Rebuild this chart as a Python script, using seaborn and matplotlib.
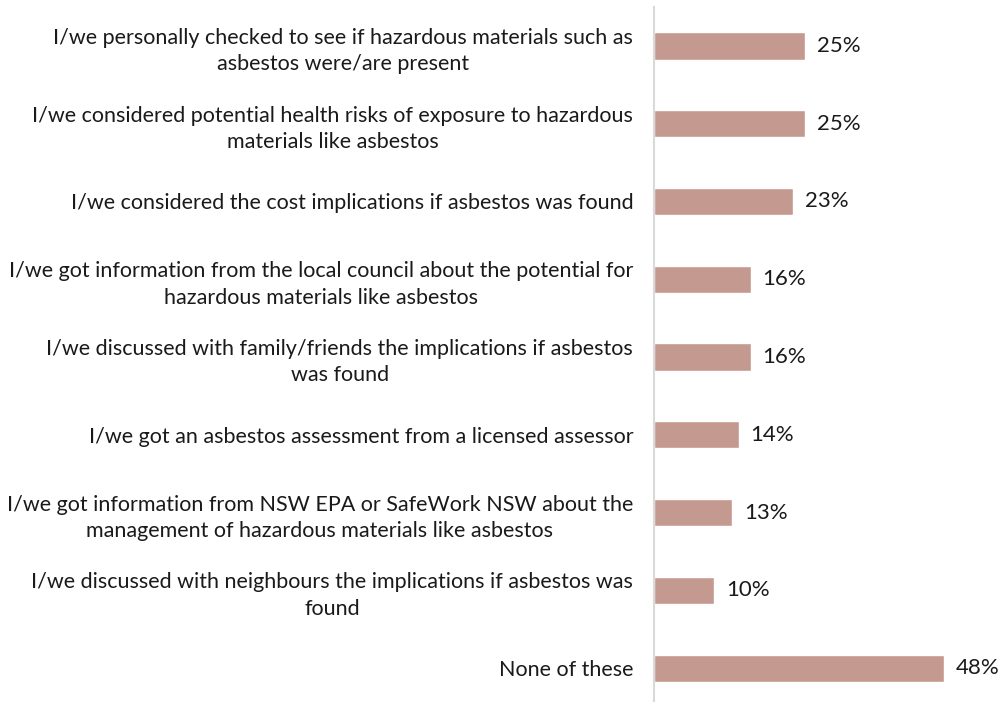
import matplotlib
matplotlib.use("Agg")
import matplotlib.pyplot as plt
import seaborn as sns
import pandas as pd

categories = [
    "I/we personally checked to see if hazardous materials such as\nasbestos were/are present",
    "I/we considered potential health risks of exposure to hazardous\nmaterials like asbestos",
    "I/we considered the cost implications if asbestos was found",
    "I/we got information from the local council about the potential for\nhazardous materials like asbestos",
    "I/we discussed with family/friends the implications if asbestos\nwas found",
    "I/we got an asbestos assessment from a licensed assessor",
    "I/we got information from NSW EPA or SafeWork NSW about the\nmanagement of hazardous materials like asbestos",
    "I/we discussed with neighbours the implications if asbestos was\nfound",
    "None of these",
]
values = [25, 25, 23, 16, 16, 14, 13, 10, 48]
value_labels = ["25%", "25%", "23%", "16%", "16%", "14%", "13%", "10%", "48%"]

df = pd.DataFrame({"category": categories, "value": values})

sns.set_theme(style="white")
plt.rcParams["font.family"] = ["Lato", "DejaVu Sans"]

fig = plt.figure(figsize=(10.03, 7.02), dpi=100)
ax = fig.add_axes([654 / 1003, -5 / 702, 332 / 1003, 700 / 702])

sns.barplot(data=df, x="value", y="category", orient="h", color="#C4998F",
            saturation=1, width=0.35, ax=ax)

ax.set_xlim(0, 55)
ax.set_ylim(8.5, -0.5)
ax.set_xlabel("")
ax.set_ylabel("")
ax.set_xticks([])
for s in ["top", "right", "bottom"]:
    ax.spines[s].set_visible(False)
ax.spines["left"].set_color("#D9D9D9")
ax.spines["left"].set_linewidth(1.5)

ax.tick_params(axis="y", length=0, pad=15)
for lbl in ax.get_yticklabels():
    lbl.set_fontsize(15.5)
    lbl.set_color("#1a1a1a")
    lbl.set_horizontalalignment("right")
    lbl.set_multialignment("center")
    lbl.set_linespacing(1.4)

for i, (v, t) in enumerate(zip(values, value_labels)):
    ax.text(v + 2, i, t, va="center", ha="left", fontsize=16,
            color="#1a1a1a", clip_on=False)

fig.savefig("out.png", dpi=100)
